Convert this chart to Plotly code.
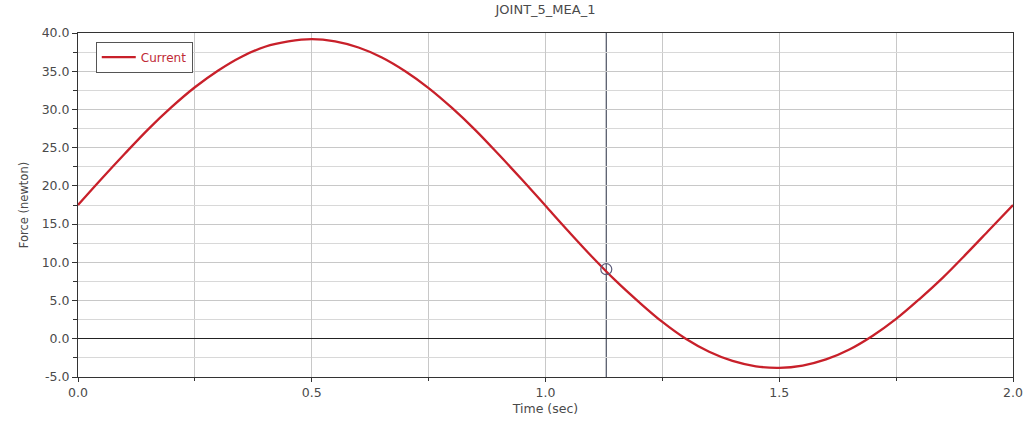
import plotly.graph_objects as go

# Data
time_s = [0.00, 0.05, 0.10, 0.15, 0.20, 0.25, 0.30, 0.35, 0.40, 0.45,
          0.50, 0.55, 0.60, 0.65, 0.70, 0.75, 0.80, 0.85, 0.90, 0.95,
          1.00, 1.05, 1.10, 1.15, 1.20, 1.25, 1.30, 1.35, 1.40, 1.45,
          1.50, 1.55, 1.60, 1.65, 1.70, 1.75, 1.80, 1.85, 1.90, 1.95, 2.00]
force_n = [17.5, 20.9, 24.2, 27.4, 30.3, 32.9, 35.1, 36.9, 38.2, 38.9,
           39.2, 38.9, 38.1, 36.8, 35.0, 32.8, 30.2, 27.3, 24.1, 20.8,
           17.4, 14.0, 10.7, 7.6, 4.8, 2.2, 0.0, -1.7, -2.9, -3.6,
           -3.8, -3.5, -2.7, -1.4, 0.4, 2.6, 5.2, 8.0, 11.1, 14.3, 17.5]
cursor_time = [1.13]
cursor_force = [9.1]

x_ticks = [0.0, 0.5, 1.0, 1.5, 2.0]
x_tick_labels = ["0.0", "0.5", "1.0", "1.5", "2.0"]
y_ticks = [-5, 0, 5, 10, 15, 20, 25, 30, 35, 40]
y_tick_labels = ["-5.0", "0.0", "5.0", "10.0", "15.0", "20.0", "25.0", "30.0", "35.0", "40.0"]

FONT = "DejaVu Sans, Verdana, sans-serif"
TXT = "#4a4a4a"

fig = go.Figure()
fig.add_trace(go.Scatter(
    x=time_s, y=force_n, mode="lines", name="Current",
    line=dict(color="#c8202a", width=2.3, shape="spline"),
))
fig.add_trace(go.Scatter(
    x=cursor_time, y=cursor_force, mode="markers", showlegend=False,
    marker=dict(symbol="circle-open", size=11, color="#5a5a78", line=dict(width=1.2)),
))
fig.add_vline(x=cursor_time[0], line=dict(color="#4a5060", width=1.2), layer="below")

fig.update_layout(
    width=1026, height=421,
    margin=dict(l=78, r=13, t=33, b=44, autoexpand=False),
    paper_bgcolor="white", plot_bgcolor="white",
    font=dict(family=FONT, size=12, color=TXT),
    title=dict(text="JOINT_5_MEA_1", x=0.5, xref="paper", y=0.988, yanchor="top",
               font=dict(family=FONT, size=13, color=TXT)),
    showlegend=True,
    legend=dict(x=0.019, y=0.975, xanchor="left", yanchor="top",
                bgcolor="white", bordercolor="#555", borderwidth=1,
                font=dict(family=FONT, size=12, color="#c02a36"), itemwidth=34),
)
fig.update_xaxes(
    range=[0, 2], tickvals=x_ticks, ticktext=x_tick_labels, automargin=False,
    tickfont=dict(family=FONT, size=12.5, color=TXT),
    showline=True, linecolor="#333", linewidth=1, mirror=True,
    ticks="outside", ticklen=4, tickcolor="#333",
    showgrid=True, gridcolor="#c8c8c8", gridwidth=1,
    minor=dict(dtick=0.25, showgrid=True, gridcolor="#c8c8c8", ticks="outside", ticklen=3, tickcolor="#333"),
    zeroline=False,
    title=dict(text="Time (sec)", font=dict(family=FONT, size=12.5, color=TXT), standoff=5),
)
fig.update_yaxes(
    range=[-5, 40], tickvals=y_ticks, ticktext=y_tick_labels, automargin=False,
    tickfont=dict(family=FONT, size=12.5, color=TXT),
    showline=True, linecolor="#333", linewidth=1, mirror=True,
    ticks="outside", ticklen=5, tickcolor="#333",
    showgrid=True, gridcolor="#c8c8c8", gridwidth=1,
    minor=dict(dtick=2.5, showgrid=True, gridcolor="#d8d8d8", ticks="outside", ticklen=4, tickcolor="#333"),
    zeroline=True, zerolinecolor="#222", zerolinewidth=1,
    title=dict(text="Force (newton)", font=dict(family=FONT, size=11.5, color=TXT), standoff=10),
)

fig.write_html("out.html", config={"displayModeBar": False},
               post_script="document.body.style.margin='0';document.body.style.overflow='hidden';")
